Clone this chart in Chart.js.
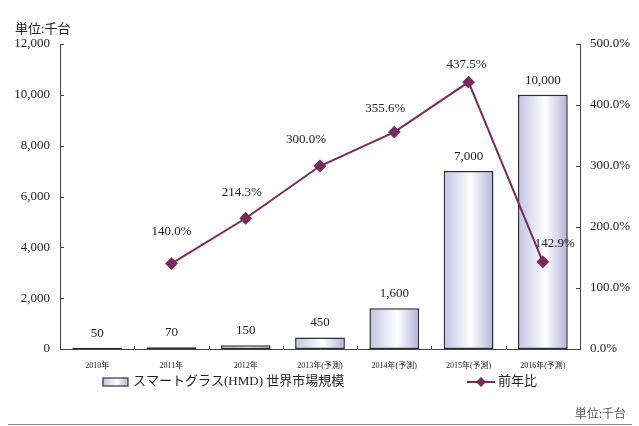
<!DOCTYPE html>
<html lang="ja">
<head>
    <meta charset="UTF-8">
    <title>スマートグラス(HMD) 世界市場規模</title>
    <script src="https://cdn.jsdelivr.net/npm/chart.js"></script>
    <style>
        body, html {
            margin: 0;
            padding: 0;
            background: #fff;
        }
        #wrap {
            width: 639px;
            height: 426px;
            position: relative;
        }
    </style>
</head>
<body>
<div id="wrap"><canvas id="chart" width="639" height="426"></canvas></div>
<script>
    // data
    const categories = ['2010年', '2011年', '2012年', '2013年(予測)', '2014年(予測)', '2015年(予測)', '2016年(予測)'];
    const marketSize = [50, 70, 150, 450, 1600, 7000, 10000];      // 千台
    const yoyRatio = [null, 140.0, 214.3, 300.0, 355.6, 437.5, 142.9]; // %
    const leftTicks = [0, 2000, 4000, 6000, 8000, 10000, 12000];
    const rightTicks = [0, 100, 200, 300, 400, 500];

    const SERIF = '"Liberation Serif", "Times New Roman", "Noto Sans CJK JP", serif';
    const LINE_COLOR = '#7a2a5c';
    const BAR_PCT = 0.67;

    // label offsets for the ratio labels (x, y from the point)
    const ratioLabelOffset = [null, [0, -32], [-4, -26], [-14, -26], [-9, -24], [-2, -18], [12, -18]];

    function barFill(ctx) {
        const chart = ctx.chart;
        const xs = chart.scales.x;
        if (ctx.type !== 'data' || !xs || !chart.chartArea) return '#d6d6ee';
        const cx = xs.getPixelForValue(ctx.dataIndex);
        const half = xs.width / categories.length * BAR_PCT / 2;
        if (!isFinite(cx) || !isFinite(half)) return '#d6d6ee';
        const g = chart.ctx.createLinearGradient(cx - half, 0, cx + half, 0);
        g.addColorStop(0, '#c2c2e2');
        g.addColorStop(0.55, '#ffffff');
        g.addColorStop(1, '#b2b2da');
        return g;
    }

    // extra drawing: inner ticks, value labels, legend, unit texts
    const decor = {
        id: 'decor',
        afterDatasetsDraw(chart) {
            const c = chart.ctx;
            const area = chart.chartArea;
            const y = chart.scales.y, y1 = chart.scales.y1, x = chart.scales.x;
            c.save();
            c.strokeStyle = '#444';
            c.lineWidth = 1;
            // axis ticks pointing into the plot
            y.ticks.forEach((t, i) => {
                const p = Math.round(y.getPixelForTick(i)) + 0.5;
                c.beginPath(); c.moveTo(area.left, p); c.lineTo(area.left + 4, p); c.stroke();
            });
            y1.ticks.forEach((t, i) => {
                const p = Math.round(y1.getPixelForTick(i)) + 0.5;
                c.beginPath(); c.moveTo(area.right, p); c.lineTo(area.right - 4, p); c.stroke();
            });
            for (let i = 1; i < categories.length; i++) {
                const p = Math.round((x.getPixelForValue(i - 1) + x.getPixelForValue(i)) / 2) + 0.5;
                c.beginPath(); c.moveTo(p, area.bottom); c.lineTo(p, area.bottom - 3); c.stroke();
            }

            // bar value labels
            c.fillStyle = '#222';
            c.font = '13px ' + SERIF;
            c.textAlign = 'center';
            c.textBaseline = 'bottom';
            chart.getDatasetMeta(0).data.forEach((el, i) => {
                c.fillText(marketSize[i].toLocaleString('en-US'), el.x, el.y - 8);
            });
            // ratio labels
            c.textBaseline = 'middle';
            chart.getDatasetMeta(1).data.forEach((el, i) => {
                if (yoyRatio[i] == null) return;
                const o = ratioLabelOffset[i];
                c.fillText(yoyRatio[i].toFixed(1) + '%', el.x + o[0], el.y + o[1]);
            });

            // legend
            const ly = 382;
            const g = c.createLinearGradient(103, 0, 128, 0);
            g.addColorStop(0, '#c2c2e2');
            g.addColorStop(0.55, '#ffffff');
            g.addColorStop(1, '#b2b2da');
            c.fillStyle = g;
            c.fillRect(103, ly - 4, 25, 8);
            c.strokeStyle = '#333';
            c.lineWidth = 1.2;
            c.strokeRect(103, ly - 4, 25, 8);
            c.fillStyle = '#222';
            c.font = '13px ' + SERIF;
            c.textAlign = 'left';
            c.fillText(chart.data.datasets[0].label, 133, ly);

            c.strokeStyle = LINE_COLOR;
            c.lineWidth = 2;
            c.beginPath(); c.moveTo(467, ly); c.lineTo(495, ly); c.stroke();
            c.fillStyle = LINE_COLOR;
            c.beginPath();
            c.moveTo(481, ly - 5); c.lineTo(486, ly); c.lineTo(481, ly + 5); c.lineTo(476, ly);
            c.closePath(); c.fill();
            c.fillStyle = '#222';
            c.fillText(chart.data.datasets[1].label, 498, ly);

            // unit texts and bottom rule
            c.font = '13px ' + SERIF;
            c.fillText('単位:千台', 15, 30);
            c.fillStyle = '#555';
            c.font = '12px ' + SERIF;
            c.textAlign = 'right';
            c.fillText('単位:千台', 626, 415);
            c.strokeStyle = '#8a8a8a';
            c.lineWidth = 1;
            c.beginPath(); c.moveTo(8, 424.5); c.lineTo(632, 424.5); c.stroke();
            c.restore();
        }
    };

    new Chart(document.getElementById('chart'), {
        data: {
            labels: categories,
            datasets: [{
                type: 'bar',
                label: 'スマートグラス(HMD) 世界市場規模',
                data: marketSize,
                yAxisID: 'y',
                backgroundColor: barFill,
                borderColor: '#2c2c3a',
                borderWidth: 1.5,
                borderSkipped: false,
                categoryPercentage: 1,
                barPercentage: BAR_PCT,
                order: 2
            }, {
                type: 'line',
                label: '前年比',
                data: yoyRatio,
                yAxisID: 'y1',
                borderColor: LINE_COLOR,
                backgroundColor: LINE_COLOR,
                borderWidth: 2,
                pointStyle: 'rectRot',
                pointRadius: 5,
                pointHoverRadius: 5,
                tension: 0,
                order: 1
            }]
        },
        options: {
            responsive: false,
            animation: false,
            layout: { padding: { top: 44, bottom: 55, left: 0, right: 0 } },
            plugins: {
                legend: { display: false },
                tooltip: { enabled: false }
            },
            scales: {
                x: {
                    grid: { display: false },
                    border: { color: '#444', width: 1 },
                    ticks: { color: '#222', font: { family: SERIF, size: 8 }, padding: 4, maxRotation: 0, autoSkip: false },
                    afterFit: s => { s.height = 22; }
                },
                y: {
                    position: 'left',
                    min: 0, max: 12000,
                    grid: { display: false },
                    border: { color: '#444', width: 1 },
                    afterBuildTicks: s => { s.ticks = leftTicks.map(v => ({ value: v })); },
                    ticks: {
                        color: '#222', font: { family: SERIF, size: 13 }, padding: 2,
                        callback: v => v.toLocaleString('en-US')
                    },
                    afterFit: s => { s.width = 60; }
                },
                y1: {
                    position: 'right',
                    min: 0, max: 500,
                    grid: { display: false },
                    border: { color: '#444', width: 1 },
                    afterBuildTicks: s => { s.ticks = rightTicks.map(v => ({ value: v })); },
                    ticks: {
                        color: '#222', font: { family: SERIF, size: 13 }, padding: 2,
                        callback: v => v.toFixed(1) + '%'
                    },
                    afterFit: s => { s.width = 59; }
                }
            }
        },
        plugins: [decor]
    });
</script>
</body>
</html>
